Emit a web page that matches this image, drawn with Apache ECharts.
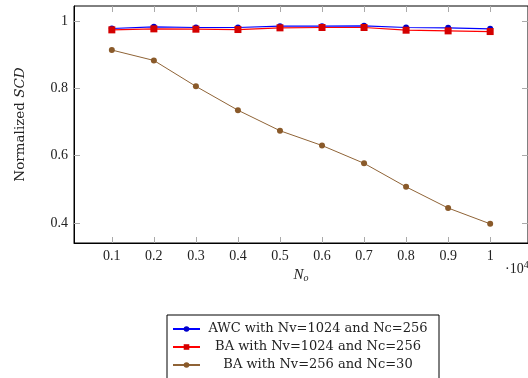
<!DOCTYPE html>
<html>
<head>
<meta charset="utf-8">
<script src="https://cdn.jsdelivr.net/npm/echarts@6/dist/echarts.min.js"></script>
<style>
  html, body { margin: 0; padding: 0; background: #fff; }
  #chart { width: 528px; height: 378px; }
</style>
</head>
<body>
<div id="chart"></div>
<script>
// N_o values (x 10^4)
const xValues = [0.1, 0.2, 0.3, 0.4, 0.5, 0.6, 0.7, 0.8, 0.9, 1.0];
const xTicks = [0.1, 0.2, 0.3, 0.4, 0.5, 0.6, 0.7, 0.8, 0.9, 1.0];
const yTicks = [0.4, 0.6, 0.8, 1.0];

const awc1024 = [0.978, 0.983, 0.981, 0.981, 0.985, 0.985, 0.986, 0.981, 0.980, 0.977];
const ba1024 = [0.974, 0.977, 0.976, 0.975, 0.980, 0.981, 0.981, 0.973, 0.971, 0.969];
const ba256 = [0.914, 0.883, 0.806, 0.735, 0.674, 0.630, 0.577, 0.507, 0.444, 0.397];

const seriesNames = [
  "AWC with Nv=1024 and Nc=256",
  "BA with Nv=1024 and Nc=256",
  "BA with Nv=256 and Nc=30"
];

const serif = "Liberation Serif";
const wide = "DejaVu Serif";

const pairs = (ys) => xValues.map((x, i) => [x, ys[i]]);

const chart = echarts.init(document.getElementById("chart"));

const xCommon = {
  type: "value",
  min: 0.01,
  max: 1.09,
  splitLine: { show: false },
  axisTick: {
    inside: true,
    length: 6,
    customValues: xTicks,
    lineStyle: { color: "#aaa", width: 1 }
  }
};
const yCommon = {
  type: "value",
  min: 0.34,
  max: 1.045,
  splitLine: { show: false },
  axisTick: {
    inside: true,
    length: 6,
    customValues: yTicks,
    lineStyle: { color: "#aaa", width: 1 }
  }
};

chart.setOption({
  animation: false,
  grid: {
    left: 74,
    top: 6,
    width: 457,
    height: 237,
    show: true,
    borderColor: "#000",
    borderWidth: 1,
    containLabel: false
  },
  xAxis: [
    Object.assign({}, xCommon, {
      position: "bottom",
      axisLine: { show: true, lineStyle: { color: "#000" } },
      axisLabel: {
        customValues: xTicks,
        fontFamily: serif,
        fontSize: 14,
        color: "#222",
        margin: 6,
        formatter: (v) => (Math.round(v * 10) / 10).toString()
      },
      name: "{i|N}{s|o}",
      nameLocation: "middle",
      nameGap: 22,
      nameTextStyle: {
        rich: {
          i: { fontFamily: serif, fontStyle: "italic", fontSize: 15, color: "#222" },
          s: { fontFamily: serif, fontStyle: "italic", fontSize: 10, color: "#222", verticalAlign: "bottom", padding: [6, 0, 0, 0] }
        }
      }
    }),
    Object.assign({}, xCommon, {
      position: "top",
      axisLine: { show: false },
      axisLabel: { show: false }
    })
  ],
  yAxis: [
    Object.assign({}, yCommon, {
      position: "left",
      axisLine: { show: true, lineStyle: { color: "#000" } },
      axisLabel: {
        customValues: yTicks,
        fontFamily: serif,
        fontSize: 14,
        color: "#222",
        margin: 6,
        formatter: (v) => (Math.round(v * 10) / 10).toString()
      },
      name: "Normalized {i|SCD}",
      nameLocation: "middle",
      nameGap: 47,
      nameTextStyle: {
        fontFamily: wide,
        fontSize: 13.5,
        color: "#222",
        rich: {
          i: { fontFamily: wide, fontStyle: "italic", fontSize: 13.5, color: "#222" }
        }
      }
    }),
    Object.assign({}, yCommon, {
      position: "right",
      axisLine: { show: false },
      axisLabel: { show: false }
    })
  ],
  graphic: [
    {
      type: "text",
      left: 505,
      top: 260,
      style: {
        text: "·10{s|4}",
        fontFamily: serif,
        fontSize: 14,
        fill: "#222",
        rich: {
          s: { fontFamily: serif, fontSize: 10, fill: "#222", verticalAlign: "top", padding: [0, 0, 8, 0] }
        }
      }
    }
  ],
  legend: {
    orient: "horizontal",
    left: 167,
    top: 315,
    width: 262,
    itemWidth: 27,
    itemHeight: 7,
    itemGap: 4,
    padding: [7, 8, 20, 5],
    borderColor: "#000",
    borderWidth: 1,
    borderRadius: 0,
    data: seriesNames,
    formatter: (name) => "{t|" + name + "}",
    textStyle: {
      rich: {
        t: { fontFamily: wide, fontSize: 13, height: 14, lineHeight: 14, color: "#222", width: 226, align: "center" }
      }
    }
  },
  series: [
    {
      name: seriesNames[0],
      type: "line",
      data: pairs(awc1024),
      symbol: "circle",
      symbolSize: 6,
      lineStyle: { color: "#0000ff", width: 1.2 },
      itemStyle: { color: "#0000cc" },
      z: 3
    },
    {
      name: seriesNames[1],
      type: "line",
      data: pairs(ba1024),
      symbol: "rect",
      symbolSize: 7,
      lineStyle: { color: "#ff0000", width: 1.2 },
      itemStyle: { color: "#d40000" },
      z: 4
    },
    {
      name: seriesNames[2],
      type: "line",
      data: pairs(ba256),
      symbol: "circle",
      symbolSize: 6,
      lineStyle: { color: "#8f6336", width: 1 },
      itemStyle: { color: "#8a5a2a" },
      z: 2
    }
  ]
});
</script>
</body>
</html>
